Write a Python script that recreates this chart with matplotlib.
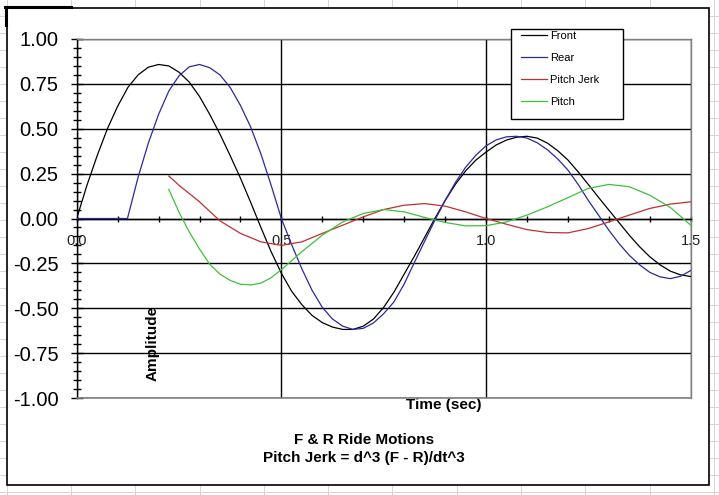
import matplotlib
matplotlib.use("Agg")
import matplotlib.pyplot as plt
from matplotlib.ticker import MultipleLocator, FormatStrFormatter
from matplotlib.patches import Rectangle
from matplotlib.lines import Line2D

plt.rcParams['font.family'] = ['Liberation Sans', 'DejaVu Sans']
plt.rcParams['axes.unicode_minus'] = False

# ---------------- data ----------------
t_front = [0.0, 0.025, 0.05, 0.075, 0.1, 0.125, 0.15, 0.175, 0.2, 0.225, 0.25, 0.275,
           0.3, 0.325, 0.35, 0.375, 0.4, 0.425, 0.45, 0.475, 0.5, 0.525, 0.55, 0.575,
           0.6, 0.625, 0.65, 0.675, 0.7, 0.725, 0.75, 0.775, 0.8, 0.825, 0.85, 0.875,
           0.9, 0.925, 0.95, 0.975, 1.0, 1.025, 1.05, 1.075, 1.1, 1.125, 1.15, 1.175,
           1.2, 1.225, 1.25, 1.275, 1.3, 1.325, 1.35, 1.375, 1.4, 1.425, 1.45, 1.475, 1.5]
front = [0.0, 0.185, 0.35, 0.50, 0.625, 0.73, 0.80, 0.843, 0.858, 0.85, 0.815, 0.76,
         0.68, 0.58, 0.47, 0.35, 0.225, 0.09, -0.05, -0.185, -0.305, -0.405, -0.48, -0.54,
         -0.58, -0.605, -0.618, -0.618, -0.60, -0.56, -0.495, -0.41, -0.31, -0.21, -0.105, 0.0,
         0.10, 0.19, 0.265, 0.325, 0.37, 0.41, 0.437, 0.453, 0.458, 0.448, 0.42, 0.378,
         0.326, 0.26, 0.189, 0.117, 0.047, -0.023, -0.093, -0.157, -0.213, -0.258, -0.293, -0.314, -0.323]

t_rear = [0.0, 0.124, 0.15, 0.175, 0.2, 0.225, 0.25, 0.275, 0.3, 0.325, 0.35, 0.375,
          0.4, 0.425, 0.45, 0.475, 0.5, 0.525, 0.55, 0.575, 0.6, 0.625, 0.65, 0.675,
          0.7, 0.725, 0.75, 0.775, 0.8, 0.825, 0.85, 0.875, 0.9, 0.925, 0.95, 0.975,
          1.0, 1.025, 1.05, 1.075, 1.1, 1.125, 1.15, 1.175, 1.2, 1.225, 1.25, 1.275,
          1.3, 1.325, 1.35, 1.375, 1.4, 1.425, 1.45, 1.475, 1.5]
rear = [0.0, 0.0, 0.23, 0.42, 0.58, 0.71, 0.795, 0.845, 0.858, 0.84, 0.80, 0.73,
        0.63, 0.51, 0.36, 0.185, 0.0, -0.145, -0.28, -0.40, -0.495, -0.56, -0.60, -0.618,
        -0.612, -0.582, -0.53, -0.465, -0.365, -0.245, -0.127, -0.01, 0.10, 0.20, 0.285, 0.352,
        0.405, 0.438, 0.455, 0.458, 0.448, 0.422, 0.383, 0.332, 0.27, 0.19, 0.10, 0.018,
        -0.065, -0.14, -0.205, -0.258, -0.30, -0.325, -0.335, -0.322, -0.29]

t_jerk = [0.225, 0.25, 0.3, 0.35, 0.4, 0.45, 0.5, 0.55, 0.6, 0.65, 0.7, 0.75, 0.8,
          0.85, 0.9, 0.95, 1.0, 1.05, 1.1, 1.15, 1.2, 1.25, 1.3, 1.35, 1.4, 1.45, 1.5]
jerk = [0.237, 0.185, 0.093, -0.013, -0.083, -0.13, -0.15, -0.13, -0.083, -0.037, 0.009,
        0.05, 0.074, 0.083, 0.069, 0.037, 0.0, -0.032, -0.062, -0.078, -0.08, -0.056,
        -0.019, 0.019, 0.056, 0.08, 0.093]

t_pitch = [0.225, 0.25, 0.275, 0.3, 0.325, 0.35, 0.375, 0.4, 0.425, 0.45, 0.475, 0.5,
           0.55, 0.6, 0.65, 0.7, 0.75, 0.8, 0.85, 0.9, 0.95, 1.0, 1.05, 1.1, 1.15,
           1.2, 1.25, 1.3, 1.35, 1.4, 1.45, 1.5]
pitch = [0.162, 0.035, -0.075, -0.17, -0.255, -0.31, -0.345, -0.366, -0.37, -0.36, -0.33,
         -0.285, -0.185, -0.093, -0.019, 0.028, 0.05, 0.037, 0.006, -0.022, -0.041, -0.04,
         -0.019, 0.019, 0.065, 0.116, 0.168, 0.19, 0.177, 0.13, 0.062, -0.037]

series_names = ["Front", "Rear", "Pitch Jerk", "Pitch"]
series_colors = ["#000000", "#2a2a9a", "#c03030", "#3fc03f"]

x_ticklabels = ["0.0", "0.5", "1.0", "1.5"]
title_lines = ["F & R Ride Motions", "Pitch Jerk = d^3 (F - R)/dt^3"]

# ---------------- figure ----------------
W, H = 719, 495
fig = plt.figure(figsize=(W / 100, H / 100), dpi=100)

def fx(px):
    return px / W

def fy(py):
    return 1 - py / H

# Excel sheet grid behind the chart
grid_c = "#d6d6d6"
for k in range(12):
    x = 6.7 + 64.3 * k
    fig.add_artist(Line2D([fx(x), fx(x)], [0, 1], color=grid_c, lw=0.7,
                          transform=fig.transFigure, zorder=-3))
for k in range(30):
    y = -1 + 17 * k
    fig.add_artist(Line2D([0, 1], [fy(y), fy(y)], color=grid_c, lw=0.7,
                          transform=fig.transFigure, zorder=-3))
# selected-cell marker (top-left)
fig.add_artist(Line2D([fx(5), fx(71)], [fy(7), fy(7)], color="black", lw=2.2,
                      transform=fig.transFigure, zorder=-1))
fig.add_artist(Line2D([fx(6), fx(6)], [fy(7), fy(25)], color="black", lw=2.2,
                      transform=fig.transFigure, zorder=-1))

# chart frame
fig.add_artist(Rectangle((fx(7), fy(485)), fx(709) - fx(7), fy(8) - fy(485),
                         transform=fig.transFigure, facecolor="white",
                         edgecolor="black", lw=1.2, zorder=-2))

ax_l, ax_r, ax_t, ax_b = 76.7, 690.7, 39, 398
ax = fig.add_axes([fx(ax_l), fy(ax_b), fx(ax_r) - fx(ax_l), fy(ax_t) - fy(ax_b)])
ax.set_facecolor("white")

lines = []
for tt, vv, name, col in zip([t_front, t_rear, t_jerk, t_pitch],
                             [front, rear, jerk, pitch], series_names, series_colors):
    ln, = ax.plot(tt, vv, color=col, lw=0.9, label=name, zorder=3)
    lines.append(ln)

ax.set_xlim(0, 1.5)
ax.set_ylim(-1, 1)

ax.xaxis.set_minor_locator(MultipleLocator(0.1))
ax.set_xticks([0, 0.5, 1.0, 1.5])
ax.set_xticklabels(x_ticklabels)
ax.yaxis.set_major_locator(MultipleLocator(0.25))
ax.yaxis.set_minor_locator(MultipleLocator(0.05))
ax.yaxis.set_major_formatter(FormatStrFormatter("%.2f"))

ax.grid(True, which="major", color="black", lw=1.0, zorder=1)

ax.spines["bottom"].set_position(("data", 0))
ax.spines["bottom"].set_color("black")
ax.spines["left"].set_color("black")
ax.spines["top"].set_color("#808080")
ax.spines["right"].set_color("#808080")
for s in ax.spines.values():
    s.set_linewidth(1.0)
ax.axhline(-1, color="#808080", lw=1.2, clip_on=False, zorder=4)

ax.tick_params(axis="y", which="major", direction="inout", length=8, width=1,
               labelsize=14.5, pad=9)
ax.tick_params(axis="y", which="minor", direction="inout", length=5.5, width=1)
ax.tick_params(axis="x", which="both", direction="inout", length=5, width=1,
               labelsize=10.5, pad=9, labelcolor="#222222")

ax.set_ylabel("Amplitude", fontsize=11, fontweight="bold")
ax.yaxis.set_label_coords((153 - ax_l) / (ax_r - ax_l), (ax_b - 343) / (ax_b - ax_t))
ax.yaxis.label.set_va("center")
ax.set_xlabel("Time (sec)", fontsize=11, fontweight="bold")
ax.xaxis.set_label_coords((444 - ax_l) / (ax_r - ax_l), (ax_b - 405) / (ax_b - ax_t))
ax.xaxis.label.set_va("center")

fig.text(fx(364), fy(440), title_lines[0], ha="center", va="center",
         fontsize=11, fontweight="bold")
fig.text(fx(364), fy(458), title_lines[1], ha="center", va="center",
         fontsize=11, fontweight="bold")

# legend
fig.add_artist(Rectangle((fx(511), fy(119)), fx(623) - fx(511), fy(29) - fy(119),
                         transform=fig.transFigure, facecolor="white",
                         edgecolor="black", lw=1.0, zorder=4.5))
leg = fig.legend(handles=lines, labels=series_names, loc="upper left",
                 bbox_to_anchor=(fx(521), fy(31)), bbox_transform=fig.transFigure,
                 frameon=False, borderpad=0, borderaxespad=0, handlelength=2.35,
                 handletextpad=0.25, labelspacing=1.07, fontsize=8)
leg.set_zorder(5)

fig.savefig("out.png", dpi=100)
